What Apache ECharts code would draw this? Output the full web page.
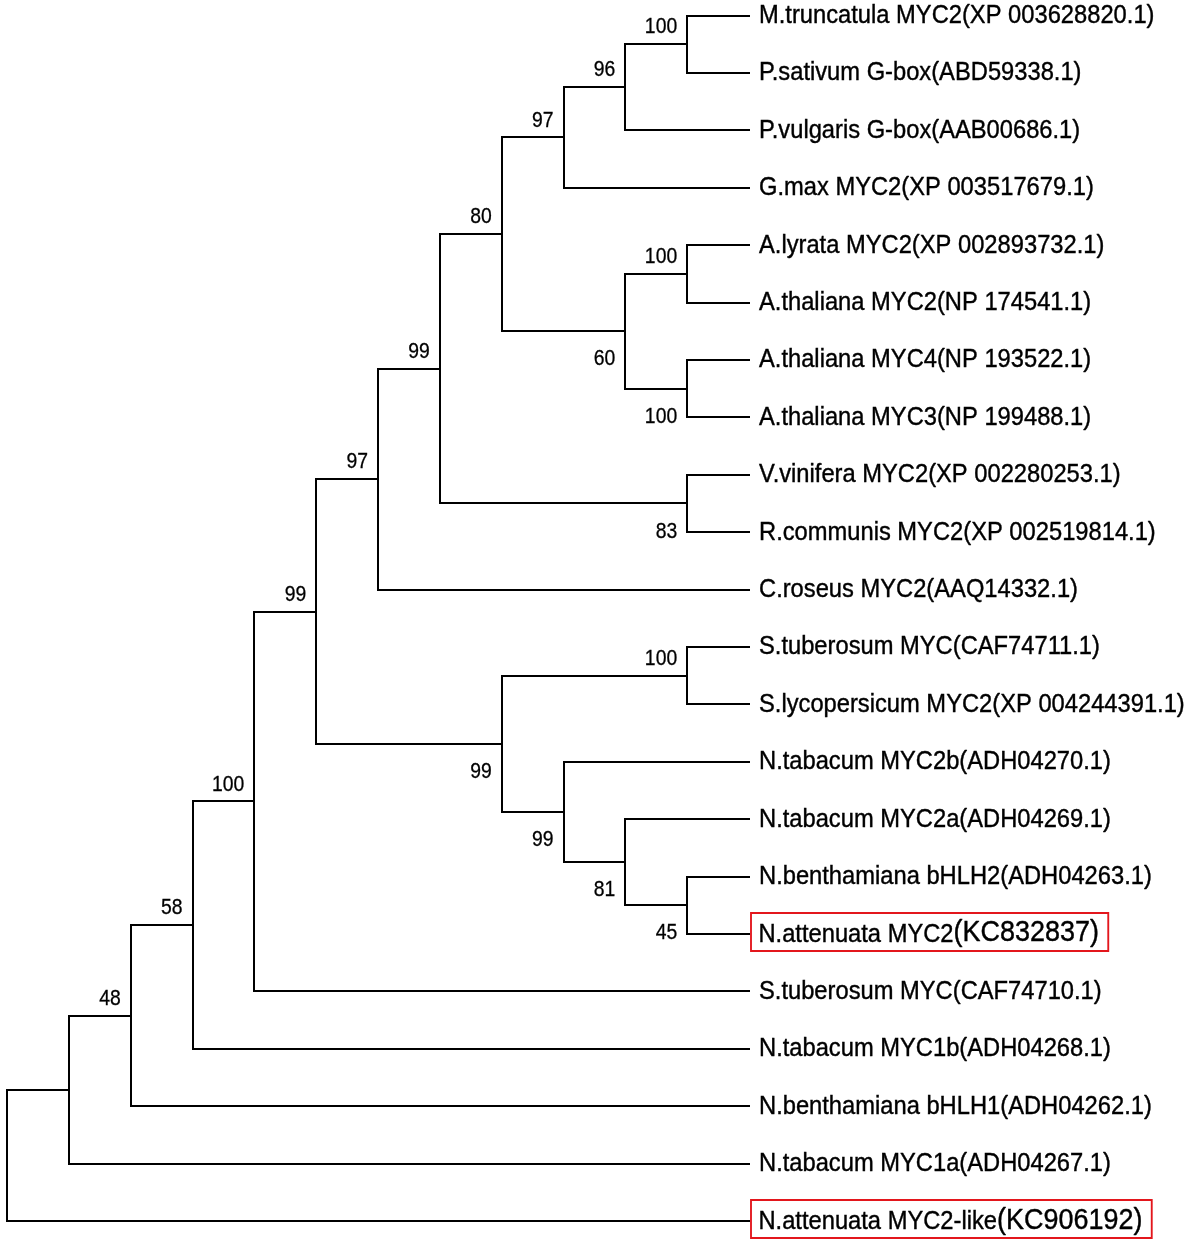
<!DOCTYPE html>
<html><head><meta charset="utf-8">
<script src="https://cdn.jsdelivr.net/npm/echarts@6/dist/echarts.min.js"></script>
<style>html,body{margin:0;padding:0;background:#fff}#chart{width:1200px;height:1242px}</style>
</head><body><div id="chart"></div>
<script>
// Leaf labels, top to bottom
const leafNames = [
  'M.truncatula MYC2(XP 003628820.1)',
  'P.sativum G-box(ABD59338.1)',
  'P.vulgaris G-box(AAB00686.1)',
  'G.max MYC2(XP 003517679.1)',
  'A.lyrata MYC2(XP 002893732.1)',
  'A.thaliana MYC2(NP 174541.1)',
  'A.thaliana MYC4(NP 193522.1)',
  'A.thaliana MYC3(NP 199488.1)',
  'V.vinifera MYC2(XP 002280253.1)',
  'R.communis MYC2(XP 002519814.1)',
  'C.roseus MYC2(AAQ14332.1)',
  'S.tuberosum MYC(CAF74711.1)',
  'S.lycopersicum MYC2(XP 004244391.1)',
  'N.tabacum MYC2b(ADH04270.1)',
  'N.tabacum MYC2a(ADH04269.1)',
  'N.benthamiana bHLH2(ADH04263.1)',
  'N.attenuata MYC2(KC832837)',
  'S.tuberosum MYC(CAF74710.1)',
  'N.tabacum MYC1b(ADH04268.1)',
  'N.benthamiana bHLH1(ADH04262.1)',
  'N.tabacum MYC1a(ADH04267.1)',
  'N.attenuata MYC2-like(KC906192)'
];
// Leaves highlighted with a red box
const boxedLeaves = [16, 21];
// Tree topology: [upperChild, lowerChild, bootstrap]; numbers are leaf indices
const cladeFabaceae = [[[0, 1, 100], 2, 96], 3, 97];
const cladeArabidopsis = [[4, 5, 100], [6, 7, 100], 60];
const cladeRosids = [[cladeFabaceae, cladeArabidopsis, 80], [8, 9, 83], 99];
const cladeSolanaceae = [[11, 12, 100], [13, [14, [15, 16, 45], 81], 99], 99];
const tree = [[[[[[[cladeRosids, 10, 97], cladeSolanaceae, 99], 17, 100], 18, 58], 19, 48], 20, null], 21, null];

function build(node) {
  if (typeof node === 'number') return { leaf: node, h: 0, y: node, children: [] };
  const a = build(node[0]), b = build(node[1]);
  return { children: [a, b], boot: node[2], h: Math.max(a.h, b.h) + 1, y: (a.y + b.y) / 2 };
}
const root = build(tree);
const maxH = root.h;
const edges = [];
const boots = [];
(function walk(n, isUpper, hasParent) {
  const x = maxH - n.h;
  n.children.forEach((c, i) => {
    edges.push([x, n.y, maxH - c.h, c.y]);
    walk(c, i === 0, true);
  });
  if (n.children.length && hasParent && n.boot != null) {
    boots.push([x, n.y, n.boot, isUpper ? 1 : 0]);
  }
})(root, true, false);
const leafPoints = leafNames.map((name, i) => [maxH, i]);

const FONT = '"Liberation Sans", Arial, Helvetica, sans-serif';
const R = v => Math.round(v);

const chart = echarts.init(document.getElementById('chart'), null, { renderer: 'canvas' });
chart.setOption({
  animation: false,
  backgroundColor: '#fff',
  grid: { left: 7, right: 451, top: 15.5, bottom: 21, containLabel: false },
  xAxis: { type: 'value', min: 0, max: maxH, show: false },
  yAxis: { type: 'value', min: 0, max: leafNames.length - 1, inverse: true, show: false },
  series: [
    {
      type: 'custom', silent: true, clip: false,
      data: edges,
      encode: { x: [0, 2], y: [1, 3] },
      renderItem: function (params, api) {
        const p = api.coord([api.value(0), api.value(1)]);
        const c = api.coord([api.value(2), api.value(3)]);
        return {
          type: 'polyline',
          shape: { points: [[R(p[0]), R(p[1])], [R(p[0]), R(c[1])], [R(c[0]), R(c[1])]] },
          style: { stroke: '#000', lineWidth: 2, fill: null, lineJoin: 'miter', lineCap: 'square' }
        };
      }
    },
    {
      type: 'custom', silent: true, clip: false,
      data: leafPoints,
      encode: { x: 0, y: 1 },
      renderItem: function (params, api) {
        const i = params.dataIndex;
        const name = leafNames[i];
        const pt = api.coord([api.value(0), api.value(1)]);
        if (boxedLeaves.indexOf(i) >= 0) {
          const k = name.lastIndexOf('(');
          return {
            type: 'text', x: pt[0] + 2, y: pt[1] - 2, scaleX: 0.93,
            style: {
              text: '{a|' + name.slice(0, k) + '}{b|' + name.slice(k) + '}',
              align: 'left', verticalAlign: 'middle',
              borderColor: '#e3161c', borderWidth: 2, padding: [3, 10, 3, 8],
              rich: {
                a: { fontSize: 25.5, fontFamily: FONT, fill: '#000', lineHeight: 32, verticalAlign: 'bottom', stroke: '#000', lineWidth: 0.4 },
                b: { fontSize: 29, fontFamily: FONT, fill: '#000', lineHeight: 32, verticalAlign: 'bottom', stroke: '#000', lineWidth: 0.4 }
              }
            }
          };
        }
        return {
          type: 'text', x: pt[0] + 10, y: pt[1] + 0.5, scaleX: 0.93,
          style: {
            text: name, fontSize: 25.5, fontFamily: FONT, fill: '#000',
            stroke: '#000', lineWidth: 0.4,
            align: 'left', verticalAlign: 'middle'
          }
        };
      }
    },
    {
      type: 'custom', silent: true, clip: false,
      data: boots,
      encode: { x: 0, y: 1 },
      renderItem: function (params, api) {
        const pt = api.coord([api.value(0), api.value(1)]);
        const upper = api.value(3) === 1;
        return {
          type: 'text', x: pt[0] - 10, y: pt[1] + (upper ? -17 : 28), scaleX: 0.88,
          style: {
            text: String(api.value(2)), fontSize: 22, fontFamily: FONT, fill: '#000',
            stroke: '#000', lineWidth: 0.3,
            align: 'right', verticalAlign: 'middle'
          }
        };
      }
    }
  ]
});
</script>
</body></html>
